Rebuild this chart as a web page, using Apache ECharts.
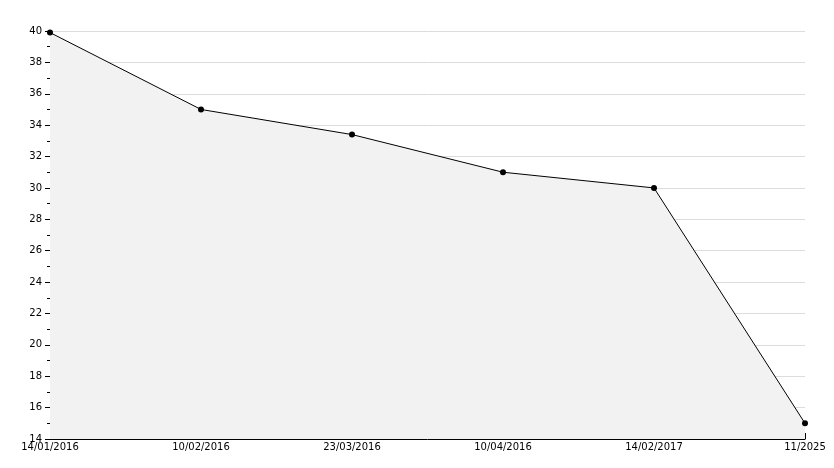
<!DOCTYPE html>
<html><head><meta charset="utf-8">
<script src="https://cdn.jsdelivr.net/npm/echarts@6/dist/echarts.min.js"></script>
<style>html,body{margin:0;padding:0;background:#fff}#c{width:834px;height:468px}</style>
</head><body><div id="c"></div>
<script>
const categories = ['14/01/2016', '10/02/2016', '23/03/2016', '10/04/2016', '14/02/2017', '11/2025'];
const values = [39.9, 35, 33.4, 31, 30, 15];

const chart = echarts.init(document.getElementById('c'), null, {renderer: 'canvas'});
chart.setOption({
  animation: false,
  grid: {left: 50, right: 29, top: 31, bottom: 29},
  xAxis: {
    type: 'category', data: categories, boundaryGap: false,
    axisLine: {lineStyle: {color: '#000', width: 1}},
    axisTick: {inside: true, length: 6, lineStyle: {color: '#000'}},
    axisLabel: {color: '#000', fontFamily: 'DejaVu Sans', fontSize: 10, margin: 3,
      formatter: (v, i) => v},
    splitLine: {show: false}
  },
  yAxis: {
    type: 'value', min: 14, max: 40, interval: 2,
    axisLine: {show: true, lineStyle: {color: '#000', width: 1}},
    axisTick: {show: true, length: 5, lineStyle: {color: '#000'}},
    minorTick: {show: true, splitNumber: 2, length: 3, lineStyle: {color: '#000'}},
    axisLabel: {color: '#000', fontFamily: 'DejaVu Sans', fontSize: 10, margin: 8},
    splitLine: {show: true, lineStyle: {color: '#dcdcdc', width: 1}}
  },
  series: [{
    type: 'line', data: values,
    symbol: 'circle', symbolSize: 6,
    itemStyle: {color: '#000'},
    lineStyle: {color: '#000', width: 1},
    areaStyle: {color: '#f2f2f2', opacity: 1, origin: 'start'}
  }]
});
</script></body></html>
